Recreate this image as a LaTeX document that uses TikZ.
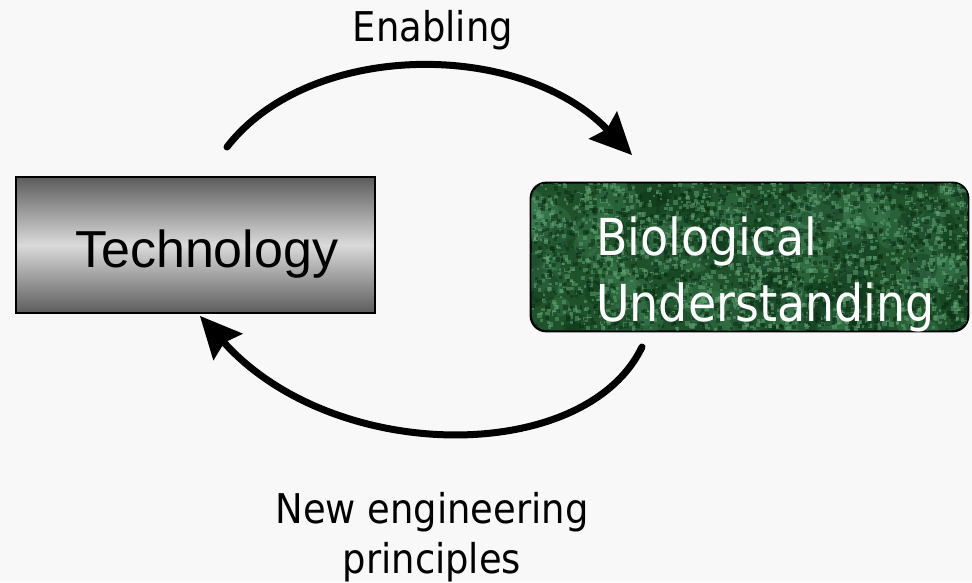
\documentclass[tikz,border=0pt]{standalone}
\usepackage{fontspec}
\setmainfont{DejaVu Sans Condensed}
\newfontfamily\techfont{Liberation Sans}
\usetikzlibrary{arrows.meta,shadings}

\begin{document}
\begin{tikzpicture}[x=1pt,y=1pt,
  techbox/.style={draw=black,line width=1.6pt,minimum width=359pt,minimum height=136pt,
    inner sep=0pt,top color=boxdark,bottom color=boxdark,middle color=boxlight},
  biobox/.style={draw=black,line width=1.4pt,rounded corners=16pt,minimum width=437pt,
    minimum height=148pt,inner sep=0pt},
  loop/.style={line width=7pt,line cap=round,
    -{Stealth[length=42pt,width=40pt,inset=6pt,line width=0pt]}}]
\definecolor{paper}{HTML}{F8F8F8}
\definecolor{boxdark}{HTML}{5C5C5C}\definecolor{boxlight}{HTML}{DADADA}
\definecolor{leaf}{HTML}{1F522B}\definecolor{leafii}{HTML}{62A474}
\definecolor{leafiii}{HTML}{0B2F15}\definecolor{leafiv}{HTML}{43845A}
\useasboundingbox (0,0) rectangle (972,582);
\fill[paper] (0,0) rectangle (972,582);

\node[techbox] (tech) at (195.5,337) {};
\node[anchor=base west,inner sep=0pt,font=\techfont\fontsize{52}{60}\selectfont] (techlbl) at (75,314) {Technology};

% green box, speckled fill clipped to its outline
\node[biobox,fill=leaf] (bio) at (749.5,325) {};
\begin{scope}
\clip[rounded corners=16pt] (bio.south west) rectangle (bio.north east);
\pgfmathsetseed{11}
\foreach \i in {1,...,90}{
  \pgfmathsetmacro{\px}{531+437*rnd}\pgfmathsetmacro{\py}{251+148*rnd}
  \pgfmathsetmacro{\pr}{6+18*rnd}
  \fill[leafiv,opacity=.3] (\px,\py) circle (\pr);}
\foreach \i in {1,...,60}{
  \pgfmathsetmacro{\px}{531+437*rnd}\pgfmathsetmacro{\py}{251+148*rnd}
  \pgfmathsetmacro{\pr}{6+16*rnd}
  \fill[leafiii,opacity=.3] (\px,\py) circle (\pr);}
\foreach \i in {1,...,1600}{
  \pgfmathsetmacro{\px}{531+437*rnd}\pgfmathsetmacro{\py}{251+148*rnd}
  \pgfmathsetmacro{\pr}{2+3*rnd}
  \fill[leafii,opacity=.5] (\px,\py) rectangle ++(\pr,\pr);}
\foreach \i in {1,...,1200}{
  \pgfmathsetmacro{\px}{531+437*rnd}\pgfmathsetmacro{\py}{251+148*rnd}
  \pgfmathsetmacro{\pr}{2+3*rnd}
  \fill[leafiii,opacity=.55] (\px,\py) rectangle ++(\pr,\pr);}
\end{scope}
\draw[black,line width=1.4pt,rounded corners=16pt] (bio.south west) rectangle (bio.north east);
\node[anchor=north west,inner sep=0pt,align=left,text=white,
  font=\fontsize{51}{66}\selectfont] (biolbl) at (596,365.5) {Biological\\Understanding};

% the two arcs between the boxes
\coordinate (upfrom) at (227,435);
\coordinate (upto) at (632,427);
\coordinate (downfrom) at (642,235);
\coordinate (downto) at (200,266);
\draw[loop] (upfrom) .. controls (310,542) and (520,542) .. (upto);
\draw[loop] (downfrom) .. controls (585,117) and (335,117) .. (downto);

\node[anchor=base,inner sep=0pt,font=\fontsize{41}{50}\selectfont] (enabling) at (433,540) {Enabling};
\node[anchor=south,inner sep=0pt,align=center,font=\fontsize{41}{50}\selectfont] (principles) at (432,0)
  {New engineering\\principles};
\end{tikzpicture}
\end{document}
